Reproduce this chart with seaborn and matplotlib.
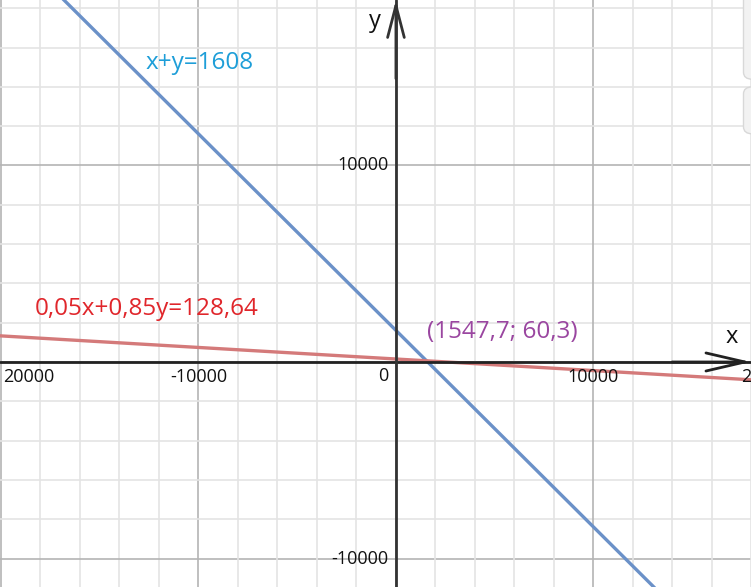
import matplotlib
matplotlib.use("Agg")
import matplotlib.pyplot as plt
from matplotlib.patches import FancyBboxPatch, FancyArrowPatch
import numpy as np
import pandas as pd
import seaborn as sns

# the two equations a*x + b*y = c
eq_labels = ["x+y=1608", "0,05x+0,85y=128,64"]
eq_a = [1.0, 0.05]
eq_b = [1.0, 0.85]
eq_c = [1608.0, 128.64]
eq_colors = ["#6b91c8", "#d47a7a"]
text_colors = ["#1e9ed8", "#e0262b"]

# solution point
sol_x = 1547.7
sol_y = 60.3
sol_label = "(1547,7; 60,3)"

# view window
x_lim = [-20050, 17980]
y_lim = [-11450, 18420]

x_tick_vals = [-20000, -10000, 10000, 20000]
x_tick_text = ["20000", "-10000", "10000", "2"]
y_tick_vals = [10000, -10000]
y_tick_text = ["10000", "-10000"]

sns.set_style("white")
plt.rcParams["font.family"] = ["Open Sans", "DejaVu Sans"]

fig = plt.figure(figsize=(7.51, 5.87), dpi=100)
ax = fig.add_axes([0, 0, 1, 1])
ax.set_xlim(x_lim)
ax.set_ylim(y_lim)

# grid: minor every 2000, major every 10000
for v in np.arange(-20000, 20001, 2000):
    major = v % 10000 == 0
    ax.axvline(v, color="#b4b4b4" if major else "#e4e4e4", lw=1.2, zorder=0)
    ax.axhline(v, color="#b4b4b4" if major else "#e4e4e4", lw=1.2, zorder=0)

# lines
xs = np.array([x_lim[0] - 2000, x_lim[1] + 2000])
rows = []
for lab, a, b, c in zip(eq_labels, eq_a, eq_b, eq_c):
    for x in xs:
        rows.append({"eq": lab, "x": x, "y": (c - a * x) / b})
df = pd.DataFrame(rows)
sns.lineplot(data=df, x="x", y="y", hue="eq", palette=dict(zip(eq_labels, eq_colors)),
             lw=2.4, legend=False, ax=ax, zorder=3)
ax.set_xlabel("")
ax.set_ylabel("")

# axes with arrows
ax.axhline(0, color="#222222", lw=2.0, zorder=4)
ax.axvline(0, color="#333333", lw=2.0, zorder=4)
ax.add_patch(FancyArrowPatch((x_lim[1] - 4000, 0), (x_lim[1], 0),
                             arrowstyle="->,head_length=28,head_width=6.5", mutation_scale=1,
                             lw=2.0, color="#222222", shrinkA=0, shrinkB=0, zorder=4))
ax.add_patch(FancyArrowPatch((0, y_lim[1] - 4000), (0, y_lim[1]),
                             arrowstyle="->,head_length=23,head_width=6", mutation_scale=1,
                             lw=2.0, color="#333333", shrinkA=0, shrinkB=0, zorder=4))

# tick labels
tick_font = dict(fontsize=13, color="#111111", zorder=5)
ax.text(-19900, -770, x_tick_text[0], ha="left", va="center", **tick_font)
ax.text(x_tick_vals[1], -770, x_tick_text[1], ha="center", va="center", **tick_font)
ax.text(x_tick_vals[2], -770, x_tick_text[2], ha="center", va="center", **tick_font)
ax.text(17980, -770, x_tick_text[3], ha="right", va="center", **tick_font)
ax.text(-380, -700, "0", ha="right", va="center", **tick_font)
for v, t in zip(y_tick_vals, y_tick_text):
    ax.text(-380, v, t, ha="right", va="center", **tick_font)

# axis names
ax.text(17000, 1250, "x", fontsize=17, ha="center", va="center", color="#111111")
ax.text(-1050, 17350, "y", fontsize=17, ha="center", va="center", color="#111111")

# equation labels
ax.text(-12700, 15200, eq_labels[0], fontsize=17.5, color=text_colors[0], ha="left", va="center")
ax.text(-18300, 2700, eq_labels[1], fontsize=17.5, color=text_colors[1], ha="left", va="center")
ax.text(sol_x, sol_y + 1450, sol_label, fontsize=17.5, color="#9a46a0", ha="left", va="center")

# side panel tabs
for y0, h in [(0.865, 0.2), (0.772, 0.08)]:
    ax.add_patch(FancyBboxPatch((0.99, y0), 0.05, h, boxstyle="round,pad=0,rounding_size=0.012",
                                transform=ax.transAxes, fc="#f2f2f2", ec="#d8d8d8", lw=1, zorder=6,
                                clip_on=False))

ax.set_xticks([])
ax.set_yticks([])
for s in ax.spines.values():
    s.set_visible(False)

fig.savefig("out.png", dpi=100)
